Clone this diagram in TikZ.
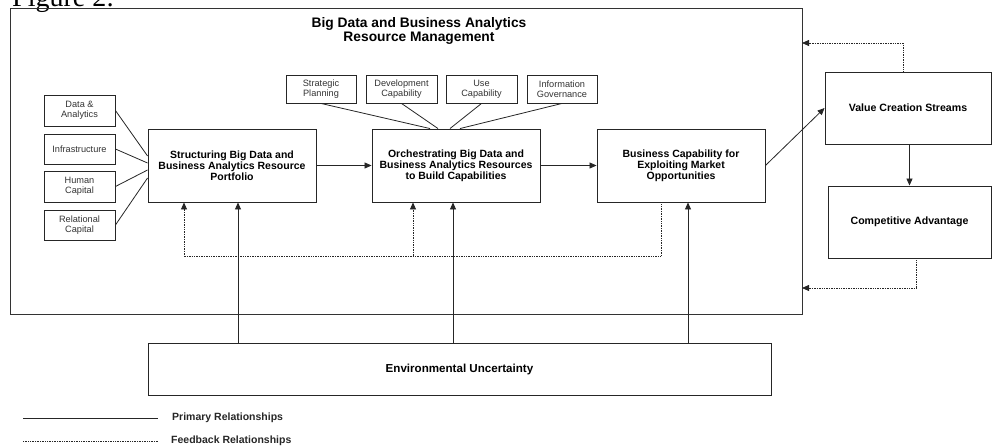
\documentclass[tikz,border=0pt]{standalone}
\usepackage{fontspec}
\setmainfont{Liberation Sans}
\newfontfamily\figserif{Liberation Serif}
\usetikzlibrary{arrows.meta,calc}
\begin{document}
\begin{tikzpicture}[x=1pt,y=-1pt,
  box/.style={draw=black!85,line width=0.9pt,inner sep=1pt,align=center},
  bigbox/.style={box,minimum width=168pt,minimum height=73pt,font=\fontsize{10.5}{11}\selectfont\bfseries},
  smallbox/.style={box,font=\fontsize{9.2}{10}\selectfont,text=black!80},
  pri/.style={draw=black!85,line width=0.8pt},
  fb/.style={draw=black!85,line width=0.8pt,dash pattern=on 1pt off 0.7pt},
  tip/.style={-{Triangle[length=7pt,width=6pt]}}
]
\useasboundingbox (0,0) rectangle (992,446);
\clip (0,0) rectangle (992,446);

\node[anchor=base west,font=\figserif\fontsize{28}{30}\selectfont,inner sep=0pt] (figlabel) at (12,7) {Figure 2:};

% outer frame
\node[draw=black!80,line width=0.9pt,minimum width=792pt,minimum height=306pt,inner sep=0pt] (outer) at (406,161) {};
\node[font=\fontsize{13.8}{14}\selectfont\bfseries,align=center] (title) at (419,31) {Big Data and Business Analytics\\Resource Management};

% top small boxes
\node[smallbox,minimum width=70pt,minimum height=28pt] (sp) at (321,89) {Strategic\\Planning};
\node[smallbox,minimum width=71pt,minimum height=28pt] (dc) at (401.5,89) {Development\\Capability};
\node[smallbox,minimum width=71pt,minimum height=28pt] (uc) at (481.5,89) {Use\\Capability};
\node[smallbox,minimum width=70pt,minimum height=28pt] (ig) at (562,89) {Information\\Governance};

% left small boxes
\node[smallbox,minimum width=71pt,minimum height=31pt] (da) at (79.5,110.5) {Data \&\\Analytics};
\node[smallbox,minimum width=71pt,minimum height=30pt] (inf) at (79.5,149) {Infrastructure};
\node[smallbox,minimum width=71pt,minimum height=31pt] (hc) at (79.5,186.5) {Human\\Capital};
\node[smallbox,minimum width=71pt,minimum height=30pt] (rc) at (79.5,225) {Relational\\Capital};

% main boxes
\node[bigbox] (struct) at (232,165.5) {Structuring Big Data and\\Business Analytics Resource\\Portfolio};
\node[bigbox] (orch) at (456,165.5) {Orchestrating Big Data and\\Business Analytics Resources\\to Build Capabilities};
\node[bigbox] (bus) at (681,165.5) {Business Capability for\\Exploiting Market\\Opportunities};

\node[box,minimum width=166pt,minimum height=72pt,font=\fontsize{10.6}{11}\selectfont\bfseries] (value) at (908,108) {Value Creation Streams};
\node[box,minimum width=163pt,minimum height=72pt,font=\fontsize{10.6}{11}\selectfont\bfseries] (comp) at (909.5,222) {Competitive Advantage};

\node[box,minimum width=623pt,minimum height=52pt,font=\fontsize{11.6}{12}\selectfont\bfseries] (env) at (459.5,369) {Environmental Uncertainty};

% left connectors
\draw[pri] (da.east) -- ($(struct.west)+(0,-9.5)$);
\draw[pri] (inf.east) -- ($(struct.west)+(0,-2.5)$);
\draw[pri] (hc.east) -- ($(struct.west)+(0,4.5)$);
\draw[pri] (rc.east) -- ($(struct.west)+(0,12.5)$);

% top connectors
\draw[pri] (sp.south) -- ($(orch.north)+(-26,0)$);
\draw[pri] (dc.south) -- ($(orch.north)+(-18,0)$);
\draw[pri] (uc.south) -- ($(orch.north)+(-6,0)$);
\draw[pri] (ig.south) -- ($(orch.north)+(4,0)$);

% main flow
\draw[pri,tip] (struct.east) -- (orch.west);
\draw[pri,tip] (orch.east) -- (bus.west);
\draw[pri,tip] (bus.east) -- (value.west);
\draw[pri,tip] (value.south -| comp.north) -- (comp.north);

% feedback from value / competitive
\coordinate (vend) at (802,43);
\draw[fb,tip] ($(value.north)+(-5,0)$) |- (vend);
\coordinate (cend) at (802,288);
\draw[fb,tip] ($(comp.south)+(6.5,0)$) |- (cend);

% bottom feedback loop
\coordinate (fbR) at ($(bus.south)+(-20,54)$);
\coordinate (fbL) at ($(struct.south)+(-48,54)$);
\draw[fb,tip] ($(bus.south)+(-20,0)$) -- (fbR) -- (fbL) -- ($(struct.south)+(-48,0)$);
\path ($(orch.south)+(-43,0)$) coordinate (om);
\draw[fb,tip] (om |- fbL) -- (om);

% environmental arrows
\path ($(struct.south)+(6,0)$) coordinate (s1);
\path ($(orch.south)+(-3,0)$) coordinate (s2);
\path ($(bus.south)+(7,0)$) coordinate (s3);
\draw[pri,tip] (s1 |- env.north) -- (s1);
\draw[pri,tip] (s2 |- env.north) -- (s2);
\draw[pri,tip] (s3 |- env.north) -- (s3);

% legend
\coordinate (l1a) at (23,418);
\coordinate (l1b) at (158,418);
\draw[pri] (l1a) -- (l1b);
\node[anchor=west,inner sep=0pt,font=\fontsize{10.5}{11}\selectfont\bfseries,text=black!85] (l1t) at (172,418) {Primary Relationships};
\coordinate (l2a) at (23,441);
\coordinate (l2b) at (158,441);
\draw[fb] (l2a) -- (l2b);
\node[anchor=west,inner sep=0pt,font=\fontsize{10.5}{11}\selectfont\bfseries,text=black!85] (l2t) at (171,441) {Feedback Relationships};
\end{tikzpicture}
\end{document}
